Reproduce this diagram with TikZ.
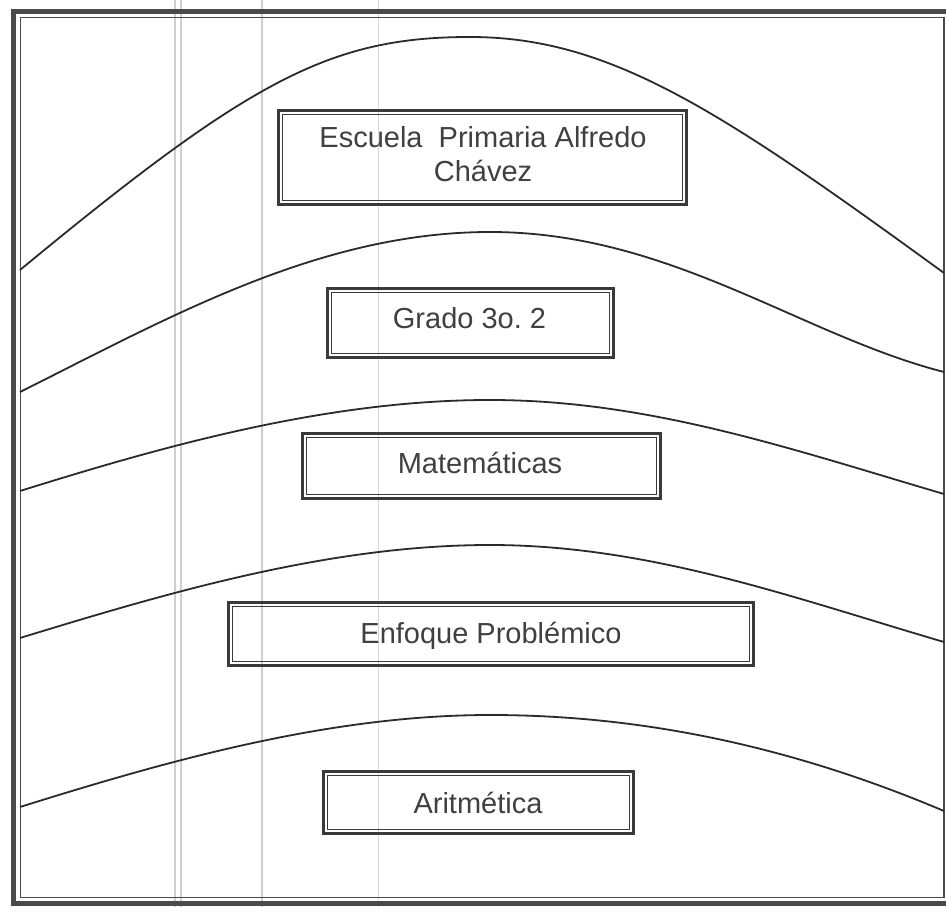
\documentclass[tikz,border=0pt]{standalone}
\usepackage{fontspec}
\setmainfont{Liberation Sans}
\frenchspacing
\definecolor{curvecol}{HTML}{2A2A2A}
\definecolor{boxcol}{HTML}{3A3A3A}
\definecolor{framecol}{HTML}{4A4A4A}
\definecolor{txtcol}{HTML}{404040}
\definecolor{faintcol}{HTML}{CFCFCF}
\begin{document}
\begin{tikzpicture}[x=1pt,y=-1pt]
\tikzset{
  bxo/.style={draw=boxcol, line width=3pt, inner sep=0pt, rectangle},
  bxi/.style={draw=boxcol, line width=1.3pt},
  lbl/.style={text=txtcol, font=\fontsize{29}{32}\selectfont, inner sep=0pt, text height=21pt, text depth=0pt},
  faint/.style={line width=1.4pt, draw=faintcol},
  curve/.style={line width=1.8pt, draw=curvecol},
}
\useasboundingbox (0,0) rectangle (946,907);
\fill[white] (0,0) rectangle (946,907);
% faint scan lines
\draw[faint] (175,0) -- (175,907);
\draw[faint] (181,0) -- (181,907);
\draw[faint, line width=1.1pt] (262,0) -- (262,907);
\draw[faint, line width=1pt, draw=faintcol!80] (378,0) -- (378,907);
% outer frame
\draw[draw=framecol, line width=5pt] (13,12) rectangle (952,903);
\draw[draw=framecol, line width=1.4pt] (20.5,17.5) rectangle (944,897.5);
% curves
\draw[curve] (20,270) .. controls (250,80) and (330,37) .. (470,37) .. controls (610,37) and (720,110) .. (944,273);
\draw[curve] (20,392) .. controls (170,317) and (320,232) .. (490,232) .. controls (670,232) and (800,335) .. (944,372);
\draw[curve] (20,491) .. controls (170,444) and (330,400) .. (490,400) .. controls (650,400) and (794,450) .. (944,494);
\draw[curve] (20,638) .. controls (170,592) and (330,545) .. (490,545) .. controls (650,545) and (794,598) .. (944,642);
\draw[curve] (20,807) .. controls (170,760) and (330,715) .. (490,715) .. controls (650,715) and (800,750) .. (944,811);
% boxes
\node[bxo, minimum width=408pt, minimum height=94pt] (b1) at (482.5,157.5) {};
\node[bxo, minimum width=286pt, minimum height=69pt] (b2) at (470.5,323) {};
\node[bxo, minimum width=358pt, minimum height=65pt] (b3) at (481.5,466) {};
\node[bxo, minimum width=525pt, minimum height=63pt] (b4) at (491,634) {};
\node[bxo, minimum width=310pt, minimum height=62pt] (b5) at (478.5,802.5) {};
\foreach \b in {b1,b2,b3,b4,b5}{
  \draw[bxi] ([shift={(5.5,5.5)}]\b.north west) rectangle ([shift={(-5.5,-5.5)}]\b.south east);
}
% labels
\node[lbl] (t1a) at (483,137) {Escuela\ \ Primaria Alfredo};
\node[lbl] (t1b) at (483,171) {Chávez};
\node[lbl] (t2) at (469.5,318) {Grado 3o. 2};
\node[lbl] (t3) at (480,463) {Matemáticas};
\node[lbl] (t4) at (491,633) {Enfoque Problémico};
\node[lbl] (t5) at (478,803) {Aritmética};
\end{tikzpicture}
\end{document}
